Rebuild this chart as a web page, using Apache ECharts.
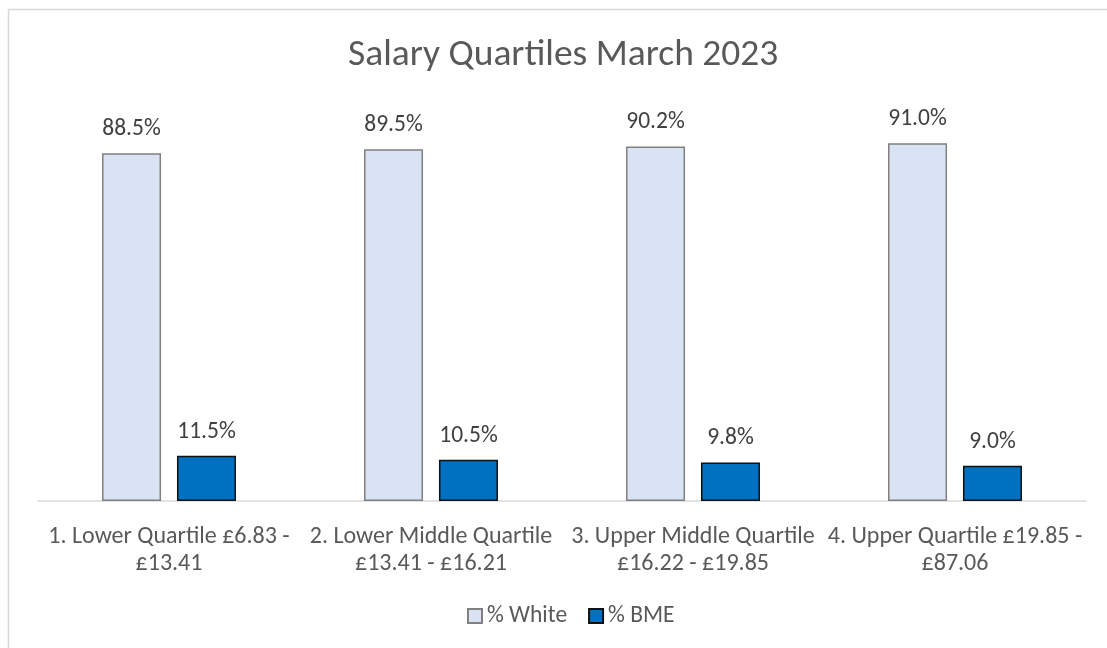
<!DOCTYPE html>
<html>
<head>
<meta charset="utf-8">
<script src="https://cdn.jsdelivr.net/npm/echarts@6/dist/echarts.min.js"></script>
<style>
  html, body { margin: 0; padding: 0; background: #fff; }
  #main { width: 1107px; height: 648px; }
</style>
</head>
<body>
<div id="main"></div>
<script>
const categories = [
  '1. Lower Quartile £6.83 -\n£13.41',
  '2. Lower Middle Quartile\n£13.41 - £16.21',
  '3. Upper Middle Quartile\n£16.22 - £19.85',
  '4. Upper Quartile £19.85 -\n£87.06'
]
const whiteValues = [88.5, 89.5, 90.2, 91.0]
const bmeValues = [11.5, 10.5, 9.8, 9.0]

const font = 'Calibri, Carlito, "Open Sans", sans-serif'

const chart = echarts.init(document.getElementById('main'))

const labelStyle = {
  show: true,
  position: 'top',
  distance: 12,
  fontSize: 23.5,
  fontFamily: font,
  color: '#404040',
  formatter: p => p.value.toFixed(1) + '%'
}

chart.setOption({
  animation: false,
  title: {
    text: 'Salary Quartiles March 2023',
    left: 343,
    top: 32,
    textStyle: { fontSize: 37.5, fontWeight: 'normal', color: '#595959', fontFamily: font }
  },
  graphic: [{
    type: 'rect',
    shape: { x: 8.5, y: 9.5, width: 1110, height: 650 },
    style: { fill: 'none', stroke: '#d9d9d9', lineWidth: 1.5 },
    silent: true
  }],
  legend: {
    bottom: 15,
    left: 462,
    icon: 'rect',
    itemWidth: 14,
    itemHeight: 14,
    itemGap: 21,
    textStyle: { fontSize: 23.5, color: '#595959', fontFamily: font },
    data: ['% White', '% BME']
  },
  grid: { left: 38, right: 21, top: 108, bottom: 147 },
  xAxis: {
    type: 'category',
    data: categories,
    axisLine: { lineStyle: { color: '#d9d9d9', width: 1.5 } },
    axisTick: { show: false },
    axisLabel: {
      interval: 0,
      fontSize: 24,
      lineHeight: 27,
      margin: 22,
      color: '#595959',
      fontFamily: font
    }
  },
  yAxis: {
    type: 'value',
    min: 0,
    max: 100,
    show: false,
    splitLine: { show: false }
  },
  series: [
    {
      name: '% White',
      type: 'bar',
      data: whiteValues,
      barWidth: 59,
      barGap: '27%',
      itemStyle: { color: '#dae3f3', borderColor: '#808080', borderWidth: 1.5 },
      label: labelStyle
    },
    {
      name: '% BME',
      type: 'bar',
      data: bmeValues,
      barWidth: 59,
      barGap: '27%',
      itemStyle: { color: '#0070c0', borderColor: '#111111', borderWidth: 1.5 },
      label: labelStyle
    }
  ]
})
</script>
</body>
</html>
